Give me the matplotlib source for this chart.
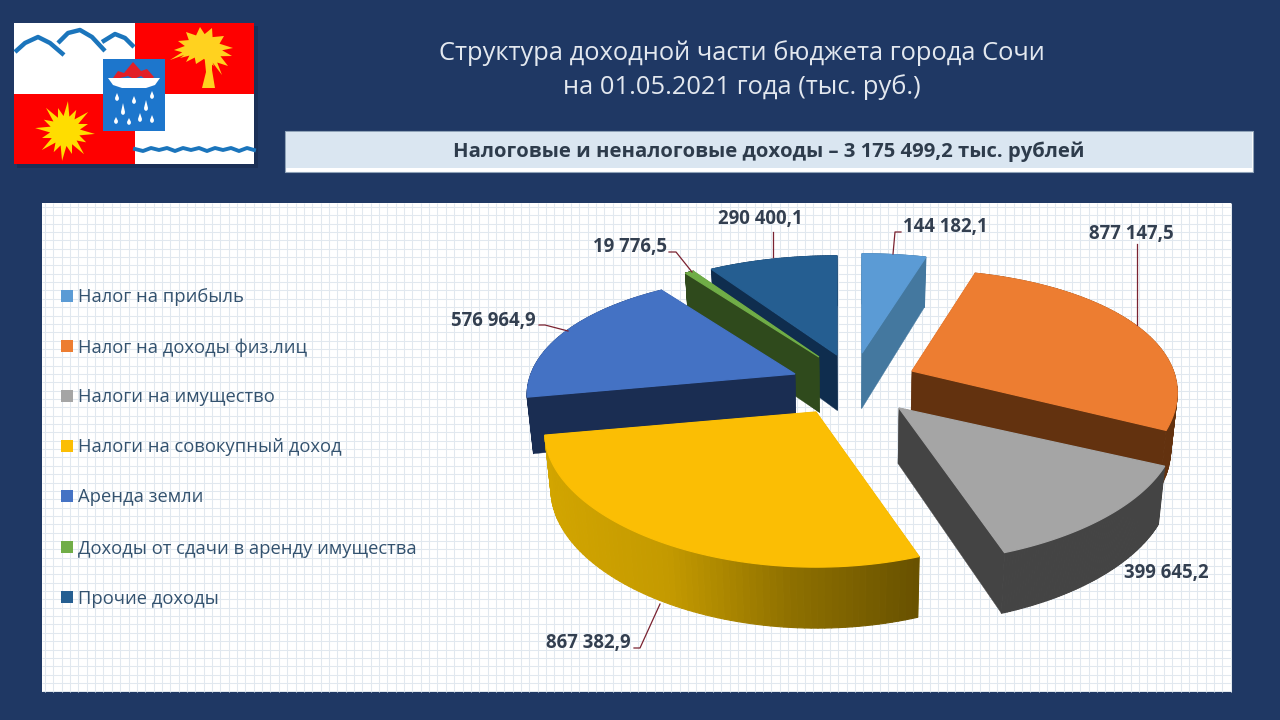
import numpy as np
import matplotlib
matplotlib.use("Agg")
import matplotlib.pyplot as plt
from matplotlib.patches import Polygon, Rectangle
from matplotlib.collections import PolyCollection, LineCollection
from matplotlib.colors import LinearSegmentedColormap, to_rgb

categories = ["Налог на прибыль", "Налог на доходы физ.лиц", "Налоги на имущество",
              "Налоги на совокупный доход", "Аренда земли",
              "Доходы от сдачи в аренду имущества", "Прочие доходы"]
values = [144182.1, 877147.5, 399645.2, 867382.9, 576964.9, 19776.5, 290400.1]
title_lines = ["Структура доходной части бюджета города Сочи", "на 01.05.2021 года (тыс. руб.)"]
subtitle = "Налоговые и неналоговые доходы – 3 175 499,2 тыс. рублей"

top_colors = ["#5B9BD5", "#ED7D31", "#A5A5A5", "#FBBE04", "#4472C4", "#70AD47", "#255E91"]
wall_colors = ["#44789F", "#63320F", "#444444", "#C49A00", "#1A2D52", "#2F4A1C", "#0F2D4E"]
apexes = [(862, 353), (912, 371), (899, 408), (816, 412), (795, 374), (819, 357), (837, 355)]
x_scale = [1.0, 0.99, 1.035, 1.012, 1.0, 1.0, 1.0]
y_scale = [1.0, 1.02, 1.0, 1.0, 1.0, 1.0, 1.0]
draw_order = [6, 5, 0, 1, 4, 2, 3]

RX, RY, KX, KY = 264, 121, 0.17, 0.22
DEPTH_BACK, DEPTH_FRONT = 50, 61
CX = 850
FONT = "Open Sans"

fig = plt.figure(figsize=(12.8, 7.2), dpi=100, facecolor="#1F3864")
ax = fig.add_axes([0, 0, 1, 1])
ax.set_xlim(0, 1280)
ax.set_ylim(720, 0)
ax.axis("off")


def rim(theta):
    u, v = np.sin(theta), -np.cos(theta)
    return RX * u / (1 - KX * v), RY * v / (1 - KY * v), v


def drop(pt, depth_v):
    x, y = pt
    d = DEPTH_BACK + (DEPTH_FRONT - DEPTH_BACK) * (depth_v + 1) / 2
    return x - (x - CX) * 0.02, y + d


# ---------- panels ----------
ax.add_patch(Rectangle((42, 203), 1189, 489, fc="white", ec="none", zorder=1))
gx = np.arange(45, 1231, 8.35)
gy = np.arange(207, 692, 8.35)
segs = [[(x, 203), (x, 692)] for x in gx] + [[(42, y), (1231, y)] for y in gy]
ax.add_collection(LineCollection(segs, colors="#E1E8EF", linewidths=0.75, zorder=1.1))

ax.add_patch(Rectangle((285, 131), 968, 41, fc="#FFFFFF", ec="#8FA3B8", lw=0.8, zorder=1))
ax.add_patch(Rectangle((286, 132), 966, 36, fc="#DAE6F1", ec="none", zorder=1.1))
ax.text(769, 151.5, subtitle, ha="center", va="center", fontsize=14.55, fontweight="bold",
        family=FONT, color="#2E3C4C", zorder=2)
for line, y in zip(title_lines, (53.5, 87.5)):
    ax.text(742, y, line, ha="center", va="center", fontsize=18.35, family=FONT,
            color="#E3E8EF", zorder=2)

# ---------- flag ----------
ax.add_patch(Rectangle((17, 26), 241, 142, fc="#17294B", ec="none", alpha=0.55, zorder=1.9))
ax.add_patch(Rectangle((14, 23), 240, 141, fc="white", ec="none", zorder=2))
ax.add_patch(Rectangle((134.5, 23), 119.5, 71, fc="#FE0000", ec="none", zorder=2.1))
ax.add_patch(Rectangle((14, 94), 120.5, 70, fc="#FE0000", ec="none", zorder=2.1))
mountains = [[(15, 52), (25, 43), (38, 37), (50, 43), (64, 55)],
             [(58, 43), (68, 33), (80, 30), (92, 37), (105, 51)],
             [(102, 42), (115, 34), (125, 38), (134, 47)]]
for m in mountains:
    ax.plot(*zip(*m), color="#1B75BC", lw=3.2, solid_capstyle="butt", solid_joinstyle="round", zorder=2.3)
wave_x = [135, 143, 151, 159, 167, 175, 183, 191, 199, 207, 215, 223, 231, 239, 247, 254]
wave_y = [149, 151, 148, 150, 148, 151, 148, 150, 148, 151, 148, 150, 148, 151, 148, 150]
ax.plot(wave_x, wave_y, color="#1B75BC", lw=2.8, zorder=2.3)

ang = np.linspace(0, 2 * np.pi, 32, endpoint=False) + np.pi / 32
rad = np.where(np.arange(32) % 2 == 1, 15, 30)
rad = np.where(np.arange(32) % 4 == 2, 24, rad)
ax.add_patch(Polygon(np.c_[65 + rad * np.cos(ang), 131 + rad * np.sin(ang)], fc="#FFDD00", ec="none", zorder=2.3))

palm_tips = [(170, 60), (174, 50), (178, 41), (186, 32), (200, 27), (212, 28), (224, 36), (233, 48),
             (232, 56), (228, 66), (222, 75), (214, 66), (196, 64), (186, 62), (180, 58)]
PALM_C = (202, 47)
palm_pts = []
for k, tip in enumerate(palm_tips):
    nxt = palm_tips[(k + 1) % len(palm_tips)]
    palm_pts.append(tip)
    palm_pts.append((PALM_C[0] + 0.33 * (tip[0] + nxt[0] - 2 * PALM_C[0]),
                     PALM_C[1] + 0.33 * (tip[1] + nxt[1] - 2 * PALM_C[1])))
ax.add_patch(Polygon(palm_pts, fc="#FFD21F", ec="none", zorder=2.3))
ax.add_patch(Polygon([(204, 52), (212, 54), (212, 70), (215, 88), (202, 88), (206, 72)],
                     fc="#FFD21F", ec="none", zorder=2.3))
ax.add_patch(Rectangle((103, 59), 62, 72, fc="#1D76CC", ec="none", zorder=2.5))
ax.add_patch(Polygon([(113, 78), (118, 71), (124, 73), (133, 62), (141, 71), (147, 69), (154, 77),
                      (156, 76), (148, 81), (141, 76), (134, 79), (128, 76), (120, 78)],
                     fc="#E21E26", ec="none", zorder=2.6))
ax.add_patch(Polygon([(108, 78), (160, 78), (155, 85), (146, 88), (122, 88), (113, 85)],
                     fc="white", ec="none", zorder=2.6))
drops = [(117, 97, 4), (134, 100, 4), (152, 95, 4), (123, 111, 8), (146, 107, 7),
         (116, 120, 3), (129, 121, 3), (140, 118, 5), (152, 119, 4)]
for x, y, h in drops:
    ax.add_patch(Polygon([(x, y - h), (x + 2, y + 1), (x + 1.6, y + 3), (x, y + 4), (x - 1.6, y + 3), (x - 2, y + 1)],
                         fc="white", ec="none", zorder=2.7))

# ---------- 3-D pie ----------
total = sum(values)
edges = np.concatenate([[0], np.cumsum(values)]) / total * 2 * np.pi
gold = LinearSegmentedColormap.from_list("gold", ["#D2A500", "#C49A00", "#8E7000", "#695200"])

for i in draw_order:
    ax_, ay_ = apexes[i]
    t = np.linspace(edges[i], edges[i + 1], 80)
    dx, dy, v = rim(t)
    xs, ys = ax_ + dx * x_scale[i], ay_ + dy * y_scale[i]
    z = 10 + draw_order.index(i)
    apex_bottom = drop((ax_, ay_), 0)
    # radial walls
    for j in (0, -1):
        b = drop((xs[j], ys[j]), v[j])
        ax.add_patch(Polygon([(ax_, ay_), (xs[j], ys[j]), b, apex_bottom], fc=wall_colors[i],
                             ec=wall_colors[i], lw=0.3, zorder=z))
    # outer wall
    bx, by = drop((xs, ys), v)
    quads = [[(xs[q], ys[q]), (xs[q + 1], ys[q + 1]), (bx[q + 1], by[q + 1]), (bx[q], by[q])]
             for q in range(len(t) - 1)]
    if i == 3:
        frac = (xs[:-1] - xs.min()) / (xs.max() - xs.min())
        cols = [gold(f) for f in frac]
    else:
        cols = [to_rgb(wall_colors[i])] * len(quads)
    ax.add_collection(PolyCollection(quads, facecolors=cols, edgecolors=cols, linewidths=0.8, zorder=z + 0.1))
    # top
    ax.add_patch(Polygon(np.c_[np.r_[ax_, xs], np.r_[ay_, ys]], fc=top_colors[i], ec=top_colors[i],
                         lw=0.9, joinstyle="miter", zorder=z + 0.2))

# ---------- labels ----------
leader_paths = [[(893, 254), (895, 232), (901, 232)],
                [(1137, 325), (1137, 244)],
                None,
                [(660, 604), (640, 648), (634, 648)],
                [(568, 331), (545, 325), (539, 325)],
                [(692, 272), (676, 252), (669, 252)],
                [(773, 257), (773, 232)]]
label_pos = [(903, 227, "left"), (1131, 234, "center"), (1166, 573, "center"), (588, 643, "center"),
             (493, 321, "center"), (667, 247, "right"), (760, 219, "center")]
for val, path, (x, y, ha) in zip(values, leader_paths, label_pos):
    txt = f"{val:,.1f}".replace(",", " ").replace(".", ",")
    ax.text(x, y, txt, ha=ha, va="center", fontsize=13.4, fontweight="bold", family=FONT,
            color="#333F50", zorder=30)
    if path:
        ax.plot(*zip(*path), color="#7A2230", lw=0.9, zorder=29)

# ---------- legend ----------
legend_y = [297.5, 347.5, 397.5, 447.5, 497.5, 548.5, 598.5]
for name, col, y in zip(categories, top_colors, legend_y):
    ax.add_patch(Rectangle((61, y - 7.5), 12, 12, fc=col, ec="none", zorder=3))
    ax.text(78, y, name, ha="left", va="center", fontsize=13.2, family=FONT, color="#33526F", zorder=3)

fig.savefig("out.png", dpi=100, facecolor=fig.get_facecolor())
